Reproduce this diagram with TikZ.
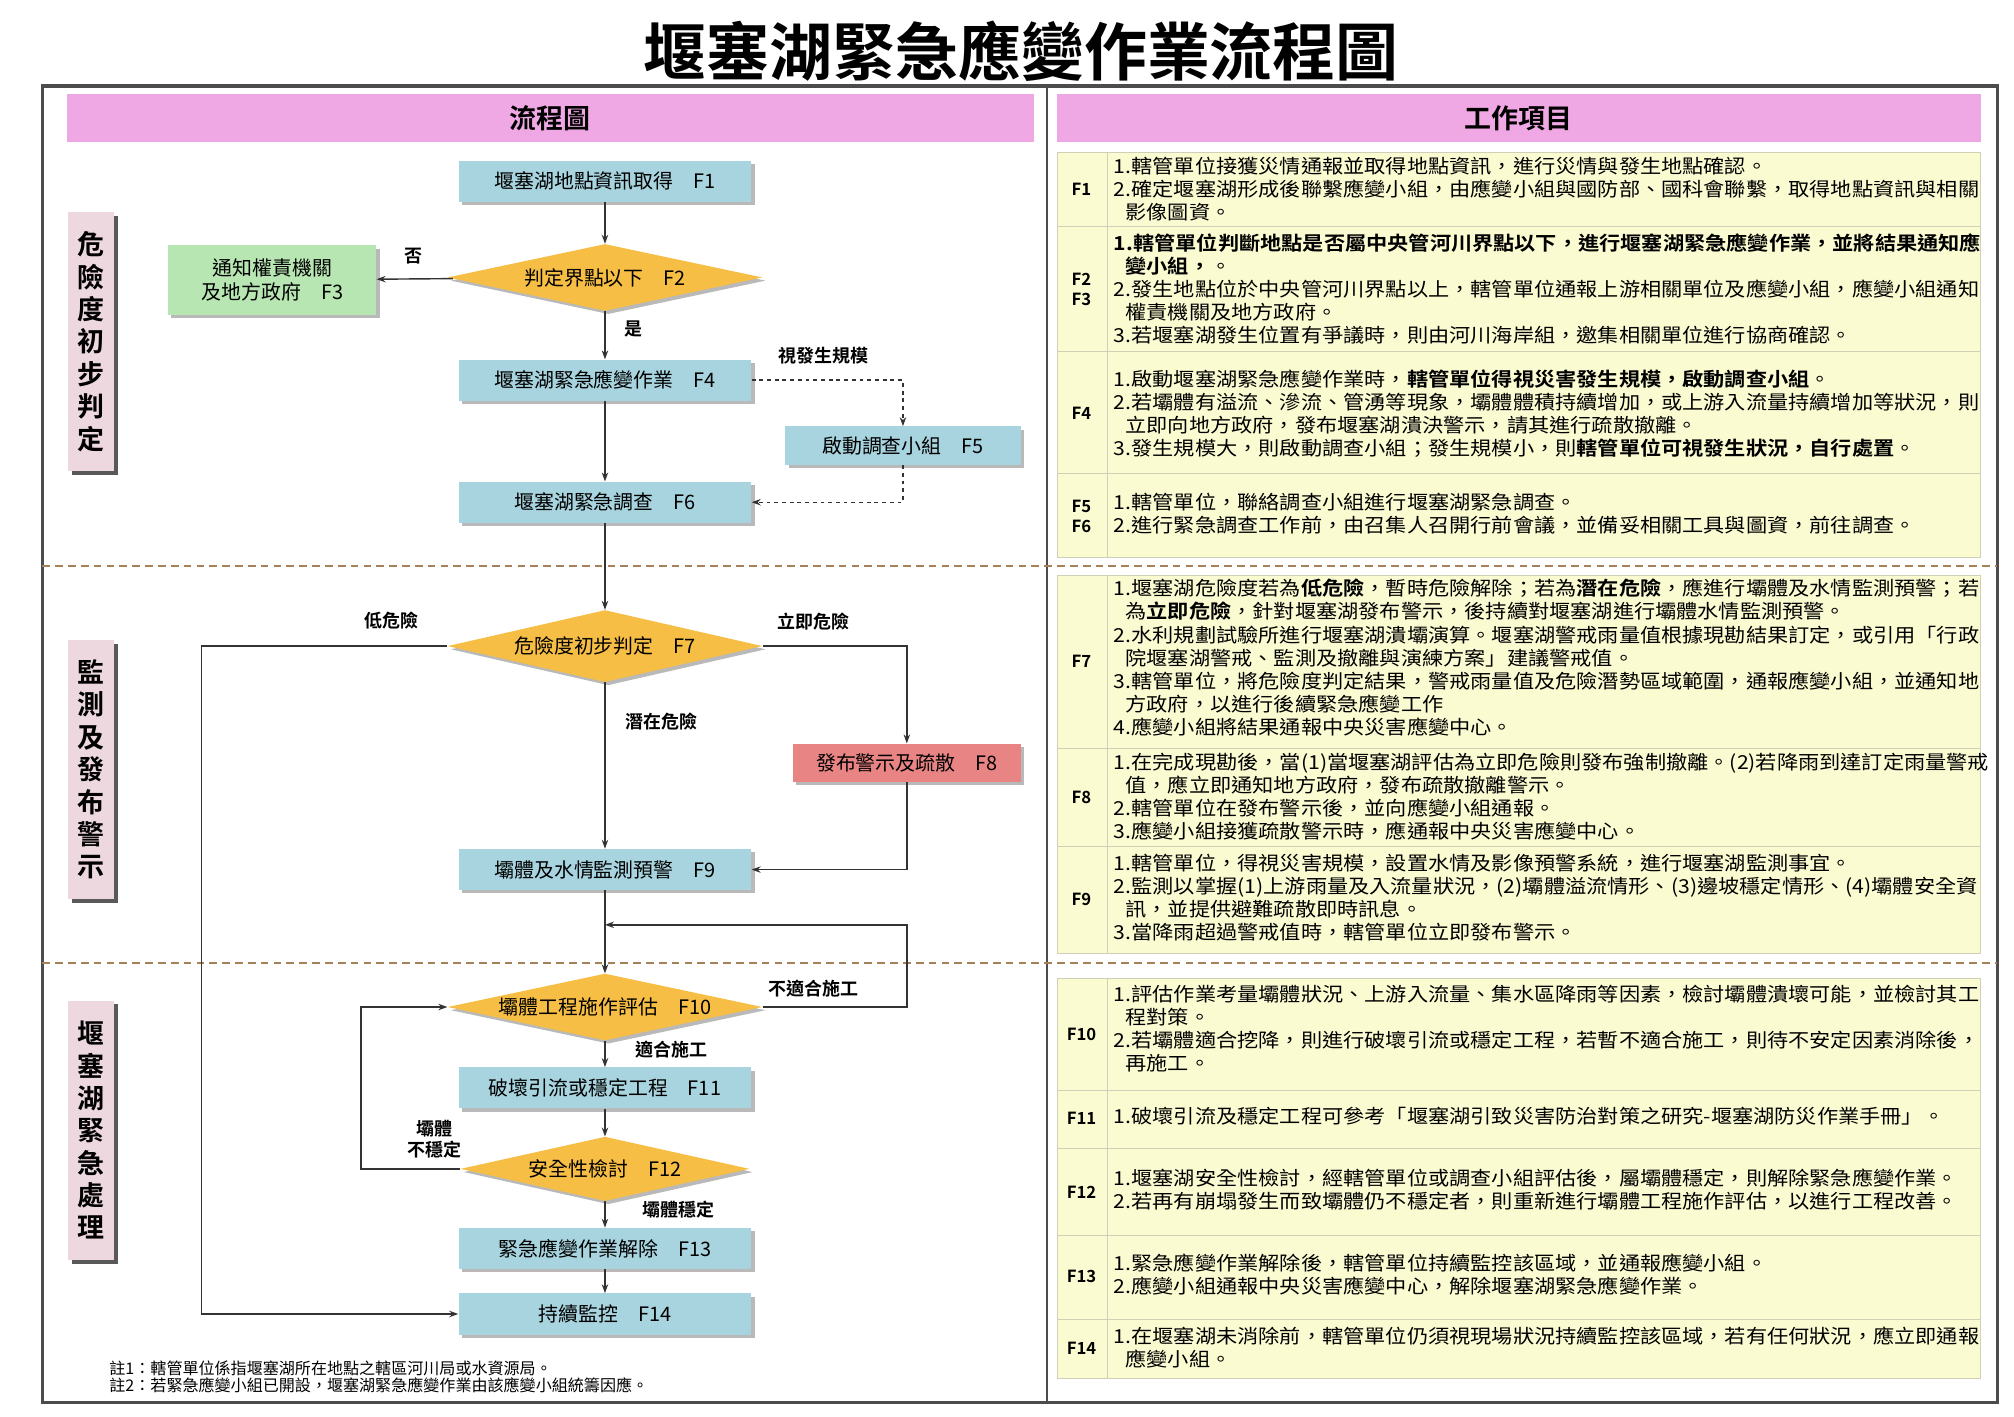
\documentclass[tikz,border=0pt]{standalone}
\usepackage{fontspec}
\setmainfont{Noto Sans CJK TC}[BoldFont={Noto Sans CJK TC Bold}]
\usetikzlibrary{shapes.geometric,shadows,arrows.meta}
\newcommand\fz[1]{\fontsize{#1pt}{\dimexpr #1pt*6/5\relax}\selectfont}
\newcommand\ind{\hspace*{0.55em}}
\definecolor{bblue}{HTML}{A8D4DF}
\definecolor{dorange}{HTML}{F7BE45}
\definecolor{bgreen}{HTML}{B8E6B2}
\definecolor{bred}{HTML}{E88484}
\definecolor{hpink}{HTML}{F0A8E4}
\definecolor{spink}{HTML}{EDD8DF}
\definecolor{tyel}{HTML}{FBFBD2}
\definecolor{tline}{HTML}{D0CFB8}
\begin{document}
\begin{tikzpicture}[x=1pt,y=-1pt,
  shd/.style={drop shadow={shadow xshift=2.5pt,shadow yshift=-2.5pt,fill=gray!55,opacity=1}},
  box/.style={fill=bblue,minimum width=228,minimum height=32,inner sep=0,shd,font=\fz{15.5}},
  dia/.style={diamond,shape aspect=4.7,fill=dorange,minimum width=245,minimum height=52,inner sep=0,shd,font=\fz{15.5}},
  sec/.style={fill=spink,minimum width=36,minimum height=202,inner sep=0,align=center,
     font=\fz{21}\bfseries,drop shadow={shadow xshift=3pt,shadow yshift=-3pt,fill=gray!70!black,opacity=1}},
  hdr/.style={fill=hpink,inner sep=0,font=\fz{21}\bfseries},
  ar/.style={-{Stealth[length=7pt,width=5pt]},line width=1.1pt,draw=black!80},
  da/.style={ar,dashed},
  lb/.style={font=\fz{14}\bfseries,inner sep=1},
  row/.style={fill=tyel,draw=tline,line width=0.8},
  rt/.style={anchor=west,align=left,font=\fontsize{15pt}{18pt}\selectfont,inner sep=0,xscale=1.1,transform shape},
  rl/.style={font=\fz{13}\bfseries,align=center,inner sep=0},
  sep/.style={dashed,draw=brown!60!gray,line width=1.6,dash pattern=on 6pt off 4pt}]
\useasboundingbox (0,0) rectangle (1568,1103);
% title
\node[font=\fz{49}\bfseries] (title) at (795,40) {堰塞湖緊急應變作業流程圖};
% frame
\draw[line width=2.8,draw=gray!60!black] (33,67) rectangle (1555,1092);
\draw[line width=2,draw=gray!60!black] (815,67) -- (815,1092);
\node[hdr,minimum width=753,minimum height=37] (h1) at (428.5,92) {流程圖};
\node[hdr,minimum width=719,minimum height=37] (h2) at (1182.5,92) {工作項目};
% separators
\draw[sep] (33,441) -- (1555,441);
\draw[sep] (33,750) -- (1555,750);
% section labels
\node[sec] (s1) at (71,266) {危\\險\\度\\初\\步\\判\\定};
\node[sec] (s2) at (71,599) {監\\測\\及\\發\\布\\警\\示};
\node[sec] (s3) at (71,880) {堰\\塞\\湖\\緊\\急\\處\\理};
% flow nodes
\node[box] (f1) at (471,141) {堰塞湖地點資訊取得\quad F1};
\node[dia] (f2) at (471,216) {判定界點以下\quad F2};
\node[box,fill=bgreen,minimum width=162,minimum height=54,align=center] (f3) at (212,218) {通知權責機關\\及地方政府\quad F3};
\node[box] (f4) at (471,296) {堰塞湖緊急應變作業\quad F4};
\node[box,minimum width=183,minimum height=30] (f5) at (703,347) {啟動調查小組\quad F5};
\node[box] (f6) at (471,391) {堰塞湖緊急調查\quad F6};
\node[dia,minimum height=56] (f7) at (471,503) {危險度初步判定\quad F7};
\node[box,fill=bred,minimum width=178,minimum height=30] (f8) at (706,594) {發布警示及疏散\quad F8};
\node[box] (f9) at (471,677) {壩體及水情監測預警\quad F9};
\node[dia] (f10) at (471,784) {壩體工程施作評估\quad F10};
\node[box] (f11) at (471,847) {破壞引流或穩定工程\quad F11};
\node[dia,minimum width=225,minimum height=50] (f12) at (471,910) {安全性檢討\quad F12};
\node[box] (f13) at (471,972) {緊急應變作業解除\quad F13};
\node[box] (f14) at (471,1023) {持續監控\quad F14};
\coordinate (c1) at (703,296);
\coordinate (c2) at (703,391);
\coordinate (c3) at (157,503);
\coordinate (c4) at (157,1023);
\coordinate (c5) at (706,503);
\coordinate (c6) at (706,677);
\coordinate (c7) at (706,784);
\coordinate (c8) at (706,720);
\coordinate (c9) at (471,720);
\coordinate (c10) at (281,910);
\coordinate (c11) at (281,784);
% edges
\draw[ar] (f1) -- (f2);
\draw[ar] (f2) -- (f3);
\draw[ar] (f2) -- (f4);
\draw[da] (f4.east) -- (c1) -- (f5.north);
\draw[da] (f5.south) -- (c2) -- (f6.east);
\draw[ar] (f4) -- (f6);
\draw[ar] (f6) -- (f7);
\draw[ar] (f7.west) -- (c3) -- (c4) -- (f14.west);
\draw[ar] (f7.east) -- (c5) -- (f8.north);
\draw[ar] (f7) -- (f9);
\draw[ar] (f8.south) -- (c6) -- (f9.east);
\draw[ar] (f9) -- (f10);
\draw[ar] (f10.east) -- (c7) -- (c8) -- (c9);
\draw[ar] (f10) -- (f11);
\draw[ar] (f11) -- (f12);
\draw[ar] (f12.west) -- (c10) -- (c11) -- (f10.west);
\draw[ar] (f12) -- (f13);
\draw[ar] (f13) -- (f14);
% edge labels
\node[lb] (l1) at (322,199) {否};
\node[lb] (l2) at (493,256) {是};
\node[lb] (l3) at (641,277) {視發生規模};
\node[lb] (l4) at (305,483) {低危險};
\node[lb] (l5) at (633,484) {立即危險};
\node[lb] (l6) at (515,562) {潛在危險};
\node[lb] (l7) at (633,770) {不適合施工};
\node[lb] (l8) at (523,817) {適合施工};
\node[lb,align=center] (l9) at (338,887) {壩體\\不穩定};
\node[lb] (l10) at (528,942) {壩體穩定};
% notes
\node[anchor=west,align=left,font=\fz{12.5},inner sep=0] (notes) at (85,1072) {註1：轄管單位係指堰塞湖所在地點之轄區河川局或水資源局。\\[-2pt]註2：若緊急應變小組已開設，堰塞湖緊急應變作業由該應變小組統籌因應。};
% table rows
\foreach \a/\b in {119/176,176/274,274/369,369/434,448/583,583/659,659/742,762/849,849/894,894/962,962/1027,1027/1073}{
  \draw[row] (823,\a) rectangle (1542,\b);
  \draw[tline,line width=0.8] (862,\a) -- (862,\b);}
\node[rl] (r1) at (842,147) {F1};
\node[rl] (r2) at (842,225) {F2\\F3};
\node[rl] (r4) at (842,322) {F4};
\node[rl] (r5) at (842,402) {F5\\F6};
\node[rl] (r7) at (842,515) {F7};
\node[rl] (r8) at (842,621) {F8};
\node[rl] (r9) at (842,700) {F9};
\node[rl] (r10) at (842,805) {F10};
\node[rl] (r11) at (842,871) {F11};
\node[rl] (r12) at (842,928) {F12};
\node[rl] (r13) at (842,994) {F13};
\node[rl] (r14) at (842,1050) {F14};
\node[rt] (t1) at (867,147) {1.轄管單位接獲災情通報並取得地點資訊，進行災情與發生地點確認。\\2.確定堰塞湖形成後聯繫應變小組，由應變小組與國防部、國科會聯繫，取得地點資訊與相關\\\ind 影像圖資。};
\node[rt] (t2) at (867,225) {\textbf{1.轄管單位判斷地點是否屬中央管河川界點以下，進行堰塞湖緊急應變作業，並將結果通知應}\\\ind\textbf{變小組，}。\\2.發生地點位於中央管河川界點以上，轄管單位通報上游相關單位及應變小組，應變小組通知\\\ind 權責機關及地方政府。\\3.若堰塞湖發生位置有爭議時，則由河川海岸組，邀集相關單位進行協商確認。};
\node[rt] (t4) at (867,322) {1.啟動堰塞湖緊急應變作業時，\textbf{轄管單位得視災害發生規模，啟動調查小組}。\\2.若壩體有溢流、滲流、管湧等現象，壩體體積持續增加，或上游入流量持續增加等狀況，則\\\ind 立即向地方政府，發布堰塞湖潰決警示，請其進行疏散撤離。\\3.發生規模大，則啟動調查小組；發生規模小，則\textbf{轄管單位可視發生狀況，自行處置}。};
\node[rt] (t5) at (867,400) {1.轄管單位，聯絡調查小組進行堰塞湖緊急調查。\\2.進行緊急調查工作前，由召集人召開行前會議，並備妥相關工具與圖資，前往調查。};
\node[rt] (t7) at (867,512) {1.堰塞湖危險度若為\textbf{低危險}，暫時危險解除；若為\textbf{潛在危險}，應進行壩體及水情監測預警；若\\\ind 為\textbf{立即危險}，針對堰塞湖發布警示，後持續對堰塞湖進行壩體水情監測預警。\\2.水利規劃試驗所進行堰塞湖潰壩演算。堰塞湖警戒雨量值根據現勘結果訂定，或引用「行政\\\ind 院堰塞湖警戒、監測及撤離與演練方案」建議警戒值。\\3.轄管單位，將危險度判定結果，警戒雨量值及危險潛勢區域範圍，通報應變小組，並通知地\\\ind 方政府，以進行後續緊急應變工作\\4.應變小組將結果通報中央災害應變中心。};
\node[rt] (t8) at (867,620) {1.在完成現勘後，當(1)當堰塞湖評估為立即危險則發布強制撤離。(2)若降雨到達訂定雨量警戒\\\ind 值，應立即通知地方政府，發布疏散撤離警示。\\2.轄管單位在發布警示後，並向應變小組通報。\\3.應變小組接獲疏散警示時，應通報中央災害應變中心。};
\node[rt] (t9) at (867,699) {1.轄管單位，得視災害規模，設置水情及影像預警系統，進行堰塞湖監測事宜。\\2.監測以掌握(1)上游雨量及入流量狀況，(2)壩體溢流情形、(3)邊坡穩定情形、(4)壩體安全資\\\ind 訊，並提供避難疏散即時訊息。\\3.當降雨超過警戒值時，轄管單位立即發布警示。};
\node[rt] (t10) at (867,801) {1.評估作業考量壩體狀況、上游入流量、集水區降雨等因素，檢討壩體潰壞可能，並檢討其工\\\ind 程對策。\\2.若壩體適合挖降，則進行破壞引流或穩定工程，若暫不適合施工，則待不安定因素消除後，\\\ind 再施工。};
\node[rt] (t11) at (867,869) {1.破壞引流及穩定工程可參考「堰塞湖引致災害防治對策之研究-堰塞湖防災作業手冊」。};
\node[rt] (t12) at (867,926) {1.堰塞湖安全性檢討，經轄管單位或調查小組評估後，屬壩體穩定，則解除緊急應變作業。\\2.若再有崩塌發生而致壩體仍不穩定者，則重新進行壩體工程施作評估，以進行工程改善。};
\node[rt] (t13) at (867,992) {1.緊急應變作業解除後，轄管單位持續監控該區域，並通報應變小組。\\2.應變小組通報中央災害應變中心，解除堰塞湖緊急應變作業。};
\node[rt] (t14) at (867,1049) {1.在堰塞湖未消除前，轄管單位仍須視現場狀況持續監控該區域，若有任何狀況，應立即通報\\\ind 應變小組。};
\end{tikzpicture}
\end{document}
